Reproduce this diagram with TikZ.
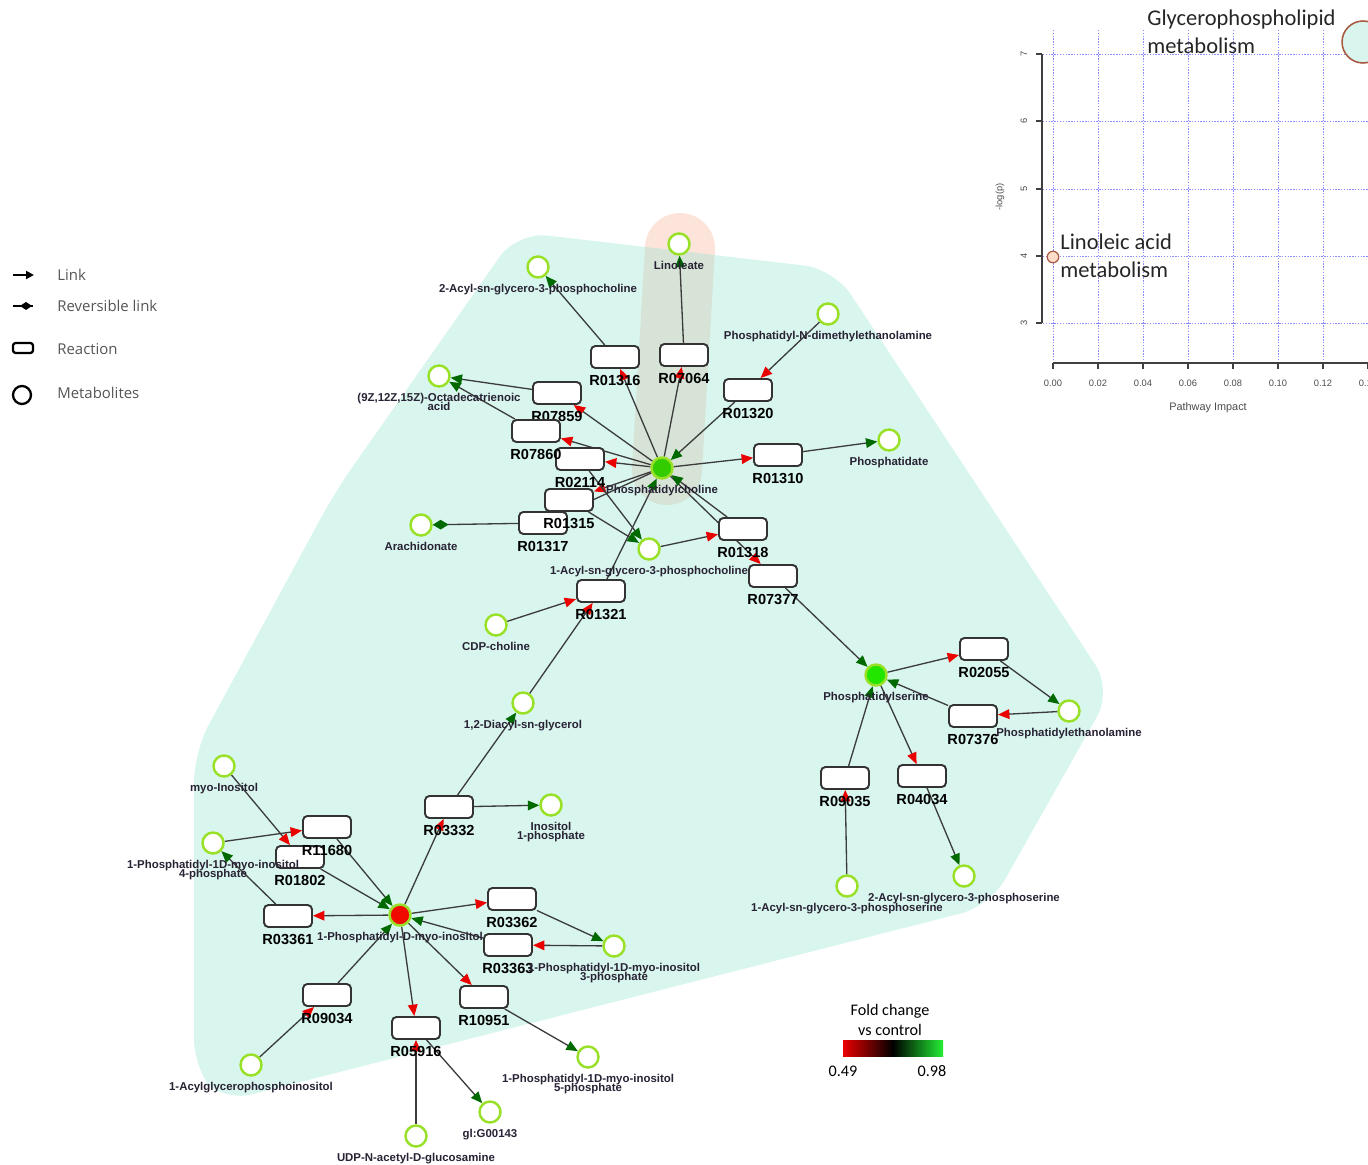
\documentclass[tikz,border=0pt]{standalone}
\usepackage{fontspec}
\setmainfont{Liberation Sans}
\newfontfamily\calibrifont{Carlito}
\newfontfamily\legendfont{Open Sans}
\usetikzlibrary{arrows.meta}

\definecolor{hullmint}{RGB}{216,246,238}
\definecolor{bandpink}{RGB}{252,228,218}
\definecolor{bandgrey}{RGB}{214,227,214}
\definecolor{metring}{RGB}{153,225,40}
\definecolor{boxline}{RGB}{51,51,51}
\definecolor{edgeline}{RGB}{60,60,60}
\definecolor{tipred}{RGB}{235,0,0}
\definecolor{tipgreen}{RGB}{0,105,0}
\definecolor{labtext}{RGB}{40,34,52}
\definecolor{pcgreen}{RGB}{51,204,0}
\definecolor{psgreen}{RGB}{34,230,0}
\definecolor{pired}{RGB}{240,10,0}
\definecolor{gridblue}{RGB}{140,140,255}
\definecolor{bubbleline}{RGB}{168,90,66}
\definecolor{bubblepeach}{RGB}{253,220,200}
\definecolor{legendgrey}{RGB}{85,85,85}
\definecolor{bargreen}{RGB}{34,238,51}

\pgfdeclarelayer{back}
\pgfdeclarelayer{links}
\pgfsetlayers{back,links,main}

\newcommand{\hullshape}{(517,232) -- (834,269) -- (1112,690) -- (990,906) -- (222,1102) -- (194,1070) -- (194,752) -- (335,492) -- cycle}
\newcommand{\metfont}{\fontsize{6.5}{5}\selectfont\bfseries\lineskiplimit-20pt\relax}

\tikzset{
  met/.style={circle, draw=metring, line width=1.4pt, fill=white, minimum size=0.42cm, inner sep=0pt},
  rxn/.style={rectangle, rounded corners=2.5pt, draw=boxline, line width=1.1pt, fill=white, minimum width=0.96cm, minimum height=0.44cm, inner sep=0pt},
  mlab/.style={font=\metfont, text=labtext, inner sep=0pt, align=center, yshift=-2.8pt},
  rlab/.style={font=\fontsize{8.3}{9}\selectfont\bfseries, text=black, inner sep=0pt, yshift=-3.3pt},
  sub/.style={draw=edgeline, line width=0.75pt, -{Triangle[length=6.5pt,width=5.5pt,color=tipred]}},
  prod/.style={draw=edgeline, line width=0.75pt, -{Triangle[length=6.5pt,width=5.5pt,color=tipgreen]}},
  rev/.style={draw=edgeline, line width=0.75pt, -{Diamond[length=9pt,width=5.5pt,color=tipgreen]}},
  legtext/.style={font=\legendfont\fontsize{8.5}{10}\selectfont, text=legendgrey, anchor=west, inner sep=0pt},
  grid/.style={draw=gridblue, line width=0.5pt, dash pattern=on 0.8pt off 0.8pt},
  axis/.style={draw=black!75, line width=0.6pt},
  tick/.style={font=\fontsize{5.3}{6}\selectfont, text=black!70, inner sep=0pt},
  plotlab/.style={font=\calibrifont\fontsize{12.8}{16}\selectfont, text=black!85, anchor=west, align=left, inner sep=0pt}
}

\begin{document}
\begin{tikzpicture}[x=0.02cm, y=-0.02cm]
\useasboundingbox (0,0) rectangle (1368,1165);

% Pathway hull and highlight
\begin{pgfonlayer}{back}
\draw[line width=1.4cm, line cap=round, bandpink] (680,248) -- (667,470);
\fill[hullmint, rounded corners=0.6cm] \hullshape;
\begin{scope}
\clip[rounded corners=0.6cm] \hullshape;
\draw[line width=1.4cm, line cap=round, bandgrey] (680,248) -- (667,470);
\end{scope}
\end{pgfonlayer}

% Reactions
\foreach \n/\x/\y in {R01316/615/357, R07064/684/355, R01320/748/390, R07859/557/393,
    R01317/543/523, R01315/569/500, R02114/580/459, R07860/536/431, R01310/778/455,
    R01318/743/529, R07377/773/576, R01321/601/591, R02055/984/649, R07376/973/716,
    R09035/845/778, R04034/922/776, R03332/449/807, R01802/300/857, R11680/327/827,
    R03361/288/916, R03362/512/899, R03363/508/945, R09034/327/995, R10951/484/997,
    R05916/416/1028}
    \node[rxn, label={[rlab]below:\n}] (\n) at (\x,\y) {};

% Metabolites
\node[met, label={[mlab]below:Linoleate}] (linoleate) at (679,244) {};
\node[met, label={[mlab]below:2-Acyl-sn-glycero-3-phosphocholine}] (agpc2) at (538,267) {};
\node[met, label={[mlab]below:Phosphatidyl-N-dimethylethanolamine}] (pdme) at (828,314) {};
\node[met, label={[mlab]below:{(9Z,12Z,15Z)-Octadecatrienoic\\acid}}] (ala) at (439,376) {};
\node[met, label={[mlab]below:Phosphatidate}] (pa) at (889,440) {};
\node[met, fill=pcgreen, label={[mlab]below:Phosphatidylcholine}] (pc) at (662,468) {};
\node[met, label={[mlab]below:Arachidonate}] (arach) at (421,525) {};
\node[met, label={[mlab]below:1-Acyl-sn-glycero-3-phosphocholine}] (lpc) at (649,549) {};
\node[met, label={[mlab]below:CDP-choline}] (cdpcho) at (496,625) {};
\node[met, label={[mlab]below:{1,2-Diacyl-sn-glycerol}}] (dag) at (523,703) {};
\node[met, fill=psgreen, label={[mlab]below:Phosphatidylserine}] (ps) at (876,675) {};
\node[met, label={[mlab]below:Phosphatidylethanolamine}] (pe) at (1069,711) {};
\node[met, label={[mlab]below:myo-Inositol}] (myoino) at (224,766) {};
\node[met, label={[mlab]below:{1-Phosphatidyl-1D-myo-inositol\\4-phosphate}}] (pi4p) at (213,843) {};
\node[met, label={[mlab]below:{Inositol\\1-phosphate}}] (ins1p) at (551,805) {};
\node[met, fill=pired, label={[mlab]below:1-Phosphatidyl-D-myo-inositol}] (pi) at (400,915) {};
\node[met, label={[mlab]below:{1-Phosphatidyl-1D-myo-inositol\\3-phosphate}}] (pi3p) at (614,946) {};
\node[met, label={[mlab]below:1-Acyl-sn-glycero-3-phosphoserine}] (lps) at (847,886) {};
\node[met, label={[mlab]below:2-Acyl-sn-glycero-3-phosphoserine}] (agps2) at (964,876) {};
\node[met, label={[mlab]below:1-Acylglycerophosphoinositol}] (lpi) at (251,1065) {};
\node[met, label={[mlab]below:{1-Phosphatidyl-1D-myo-inositol\\5-phosphate}}] (pi5p) at (588,1057) {};
\node[met, label={[mlab]below:{gl:G00143}}] (g00143) at (490,1112) {};
\node[met, label={[mlab]below:UDP-N-acetyl-D-glucosamine}] (udpglcnac) at (416,1136) {};

% Links
\begin{pgfonlayer}{links}
\foreach \a/\b in {pc/R01316, pc/R07064, pdme/R01320, pc/R07859, pc/R07860, pc/R02114,
    pc/R01310, pc/R01315, pc/R01317, lpc/R01318, pc/R07377, cdpcho/R01321, dag/R01321,
    pi/R03332, myoino/R01802, pi4p/R11680, pi/R03361, pi/R03362, pi3p/R03363, pi/R10951,
    pi/R05916, udpglcnac/R05916, lpi/R09034, ps/R02055, pe/R07376, ps/R04034, lps/R09035}
    \draw[sub] (\a) -- (\b);
\foreach \a/\b in {R01316/agpc2, R07064/linoleate, R01320/pc, R07859/ala, R07860/ala,
    R01310/pa, R02114/lpc, R01315/lpc, R01318/pc, R01321/pc, R07377/ps, R03332/dag,
    R03332/ins1p, R11680/pi, R01802/pi, R03361/pi4p, R03362/pi3p, R03363/pi, R10951/pi5p,
    R05916/g00143, R09034/pi, R02055/pe, R07376/ps, R04034/agps2, R09035/ps}
    \draw[prod] (\a) -- (\b);
\draw[rev] (R01317) -- (arach);
\end{pgfonlayer}

% Legend
\draw[line width=1.2pt, -{Triangle[length=4.5pt,width=4.5pt]}] (13,275) -- (34,275);
\node[legtext] (lglink) at (57,275) {Link};
\draw[line width=1.2pt] (13,306) -- (33,306);
\fill (20,306) -- (26,302) -- (32,306) -- (26,310) -- cycle;
\node[legtext] (lgrev) at (57,306) {Reversible link};
\draw[line width=1.3pt, rounded corners=1.5pt] (13,343) rectangle (33,353);
\node[legtext] (lgrxn) at (57,349) {Reaction};
\draw[line width=1.3pt] (22,395) circle [radius=0.18cm];
\node[legtext] (lgmet) at (57,393) {Metabolites};

% Fold change scale
\node[font=\calibrifont\fontsize{9.2}{11.5}\selectfont, align=center, inner sep=0pt] (fclab) at (890,1020) {Fold change\\vs control};
\shade[left color=tipred, right color=bargreen, middle color=black] (843,1040) rectangle (943,1056);
\node[font=\calibrifont\fontsize{9.2}{11}\selectfont, inner sep=0pt] (fclo) at (843,1071) {0.49};
\node[font=\calibrifont\fontsize{9.2}{11}\selectfont, inner sep=0pt] (fchi) at (932,1071) {0.98};

% Pathway impact plot
\foreach \x in {1053,1098,...,1323}
    \draw[grid] (\x,30) -- (\x,363);
\foreach \y in {54,121,189,256,323}
    \draw[grid] (1043,\y) -- (1368,\y);
\draw[axis] (1042,54) -- (1042,323);
\foreach \y/\v in {54/7,121/6,189/5,256/4,323/3} {
    \draw[axis] (1036,\y) -- (1042,\y);
    \node[tick, rotate=90] (yt\v) at (1024,\y) {\v};
}
\node[tick, rotate=90] (ylab) at (1000,197) {-log(p)};
\draw[axis] (1053,363) -- (1368,363);
\foreach \x/\v in {1053/0.00,1098/0.02,1143/0.04,1188/0.06,1233/0.08,1278/0.10,1323/0.12,1368/0.14} {
    \draw[axis] (\x,363) -- (\x,369);
    \node[tick] (xt\x) at (\x,383) {\v};
}
\node[tick, font=\fontsize{6.2}{7}\selectfont] (xlab) at (1208,408) {Pathway Impact};
\draw[bubbleline, fill=bubblepeach, line width=0.7pt] (1053,257) circle [radius=0.115cm];
\draw[bubbleline, fill=hullmint, line width=0.9pt] (1363,42) circle [radius=0.42cm];
\node[plotlab] (glylab) at (1147,32) {Glycerophospholipid\\metabolism};
\node[plotlab] (linlab) at (1060,256) {Linoleic acid\\metabolism};
\end{tikzpicture}
\end{document}
